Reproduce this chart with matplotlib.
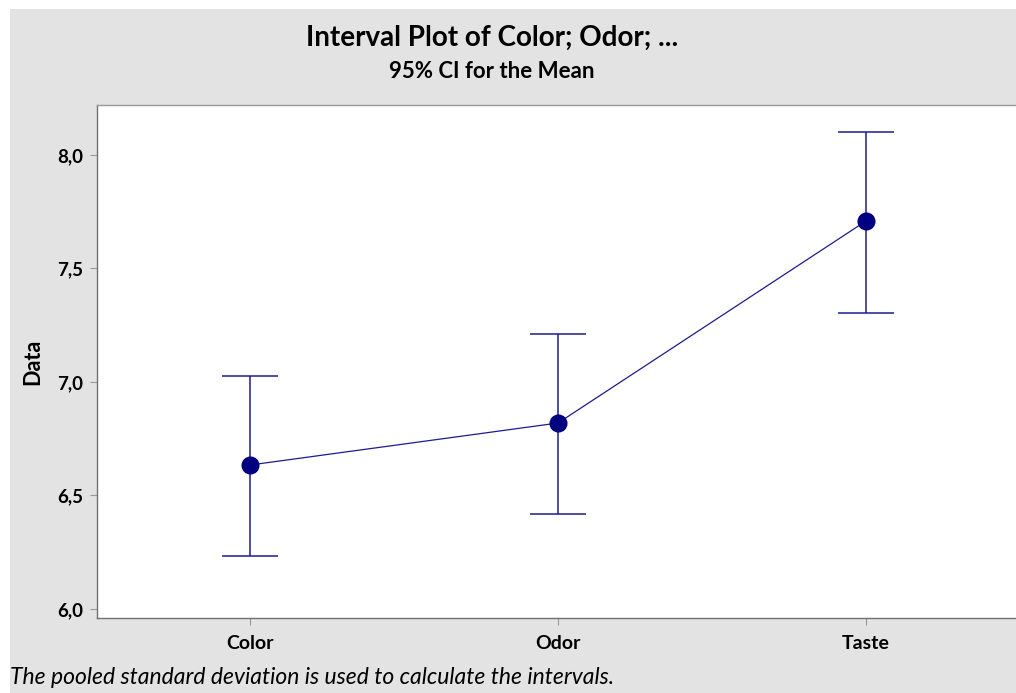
import matplotlib.pyplot as plt
import matplotlib.patches as patches

# data
groups = ["Color", "Odor", "Taste"]
means = [6.634, 6.819, 7.709]
lower = [6.233, 6.418, 7.304]
upper = [7.026, 7.211, 8.101]
yticks = [6.0, 6.5, 7.0, 7.5, 8.0]
ytick_labels = ["6,0", "6,5", "7,0", "7,5", "8,0"]

plt.rcParams['font.family'] = ['Lato', 'DejaVu Sans']

W, H = 1016, 693
fig = plt.figure(figsize=(W / 100, H / 100), dpi=100)
fig.patch.set_facecolor("white")
# grey background with a thin white margin at left/top
fig.patches.append(patches.Rectangle((10 / W, 0), 1, 1 - 9 / H, transform=fig.transFigure,
                                     facecolor="#e3e3e3", edgecolor="none", zorder=-10))

ax = fig.add_axes([97 / W, 1 - 618 / H, 1 - 97 / W + 0.01, (618 - 105) / H])
ax.set_facecolor("white")

x = list(range(1, len(groups) + 1))
err_lo = [m - l for m, l in zip(means, lower)]
err_hi = [u - m for m, u in zip(means, upper)]
ax.errorbar(x, means, yerr=[err_lo, err_hi], fmt="none", ecolor="#1c1c8f",
            elinewidth=1.1, capsize=20.5, capthick=1.1, zorder=2)
ax.plot(x, means, color="#1c1c8f", linewidth=0.9, zorder=3)
ax.plot(x, means, "o", color="#000080", markersize=12, zorder=4)

ax.set_xlim(0.503, 3.52)
ax.set_ylim(5.960, 8.220)
ax.set_xticks(x)
ax.set_xticklabels(groups, fontsize=14, fontweight="bold")
ax.set_yticks(yticks)
ax.set_yticklabels(ytick_labels, fontsize=13.5, fontweight="bold")
ax.tick_params(axis="both", direction="out", length=5, width=0.8, color="#999999", pad=5)
ax.tick_params(axis="x", pad=7)
ax.set_ylabel("Data", fontsize=15.5, fontweight="bold", labelpad=10)

for side in ["left", "bottom", "top"]:
    ax.spines[side].set_color("#707070")
    ax.spines[side].set_linewidth(1.0)
ax.spines["top"].set_color("#9a9a9a")
ax.spines["right"].set_visible(False)

fig.text(492 / W, 1 - 38 / H, "Interval Plot of Color; Odor; ...", ha="center", va="center",
         fontsize=20, fontweight="bold")
fig.text(492 / W, 1 - 72 / H, "95% CI for the Mean", ha="center", va="center",
         fontsize=16, fontweight="bold")
fig.text(10 / W, 1 - 678 / H, "The pooled standard deviation is used to calculate the intervals.",
         ha="left", va="center", fontsize=16.5, style="italic")

fig.savefig("out.png", dpi=100)
